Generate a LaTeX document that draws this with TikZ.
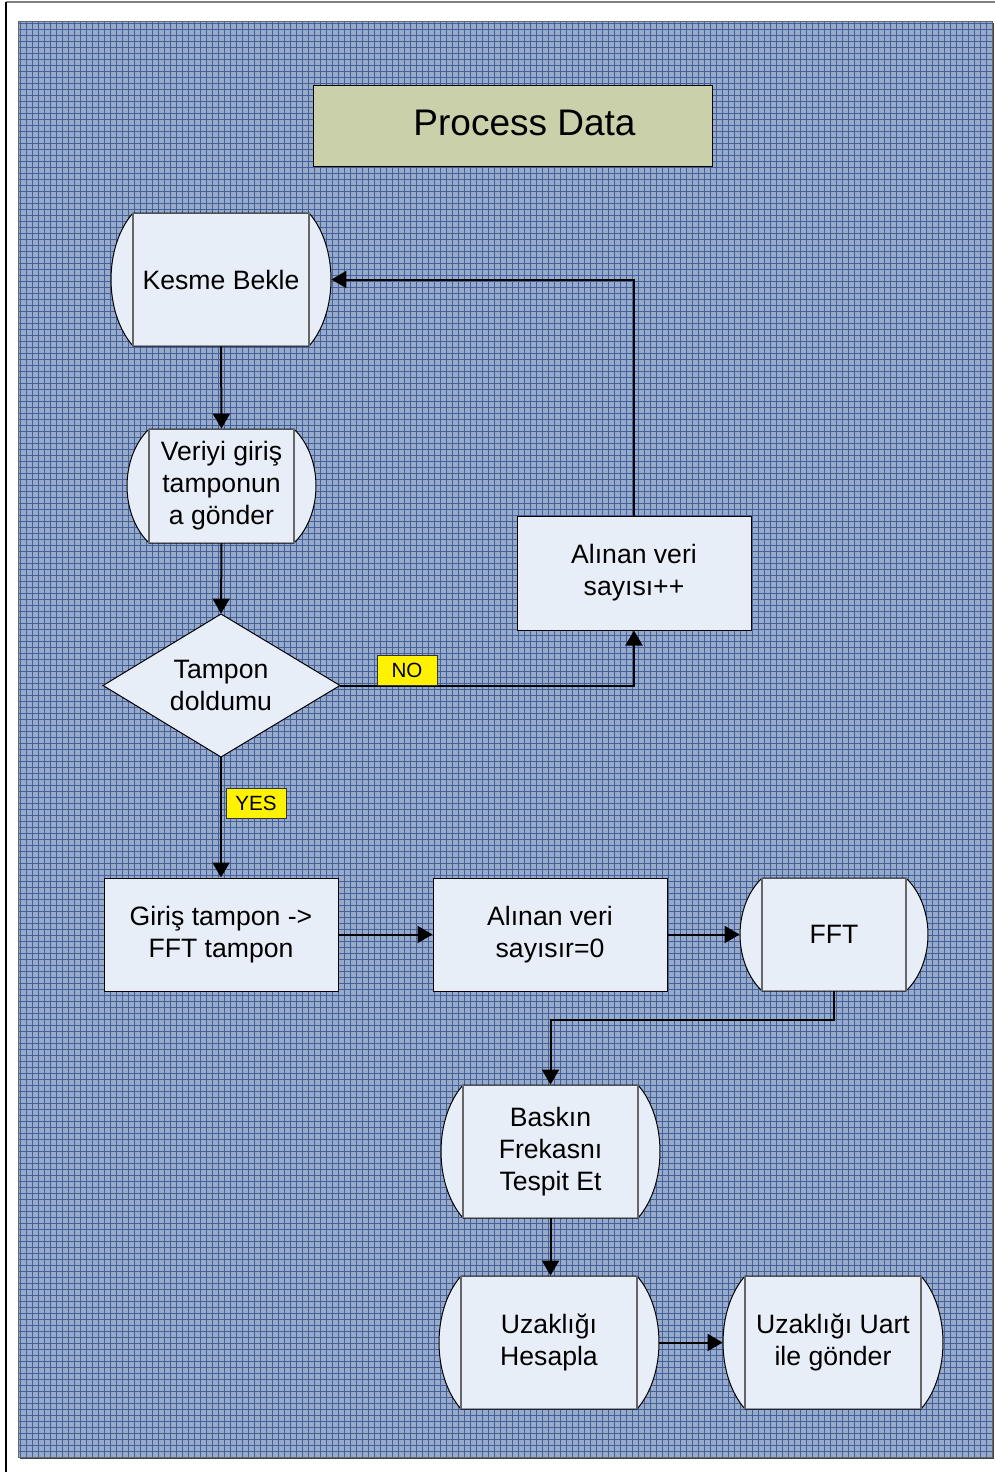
\documentclass[tikz,border=0pt]{standalone}
\usepackage{fontspec}
\setmainfont{Liberation Sans}
\usetikzlibrary{arrows.meta}
\definecolor{bgblue}{RGB}{152,170,202}
\definecolor{gridblue}{RGB}{66,96,154}
\definecolor{shapefill}{RGB}{232,238,248}
\definecolor{titlefill}{RGB}{201,208,170}
\definecolor{shadowgray}{RGB}{60,66,78}
\tikzset{
 boxtext/.style={font=\fontsize{13.3}{16}\selectfont, align=center, inner sep=0pt},
 procbox/.style={boxtext, draw=black, line width=0.5pt, fill=shapefill, rectangle},
 drumbody/.style={fill=shapefill, draw=black, line width=0.5pt},
 drumline/.style={draw=black!60, line width=0.7pt},
 conn/.style={draw=black, line width=1pt, -{Triangle[length=7.5pt,width=8.5pt]}},
 flag/.style={draw=black!80, fill=yellow, line width=0.4pt, font=\fontsize{10.3}{12}\selectfont, minimum width=30pt, minimum height=15pt, inner sep=0pt},
 gridline/.style={draw=gridblue, line width=0.42pt},
}
\newcommand{\drumnode}[6]{%
  \filldraw[drumbody] (#2-#4+22,#3-#5) -- (#2+#4-22,#3-#5)
    .. controls (#2+#4+7.3,#3-#5/2) and (#2+#4+7.3,#3+#5/2) .. (#2+#4-22,#3+#5)
    -- (#2-#4+22,#3+#5)
    .. controls (#2-#4-7.3,#3+#5/2) and (#2-#4-7.3,#3-#5/2) .. cycle;
  \draw[drumline] (#2-#4+22,#3-#5) -- (#2-#4+22,#3+#5) (#2+#4-22,#3-#5) -- (#2+#4-22,#3+#5);
  \node[boxtext, minimum width=#4pt, minimum height=#5pt] (#1) at (#2,#3) {#6};
}
\begin{document}
\begin{tikzpicture}[x=0.5pt,y=-0.5pt]
\useasboundingbox (0,0) rectangle (995,1472);
\fill[white] (0,0) rectangle (995,1472);
% outer frame
\draw[black!50, line width=1pt] (6,2) -- (995,2);
\draw[black, line width=1pt] (6,2) -- (6,1472);
% background
\fill[shadowgray] (20,23) rectangle (994,1459);
\fill[bgblue] (18,21) rectangle (992,1457);
\foreach \gx in {20,26,...,992} \draw[gridline] (\gx,21) -- (\gx,1457);
\foreach \gy in {23,29,...,1457} \draw[gridline] (18,\gy) -- (992,\gy);
\draw[black!60, line width=0.5pt] (18,21) rectangle (992,1457);

% title
\node[draw=black, line width=0.5pt, fill=titlefill, minimum width=199.5pt, minimum height=40.5pt, inner sep=0pt] (title) at (512.5,125.5) {};
\node[font=\fontsize{18.5}{22}\selectfont, inner sep=0pt] (titletext) at (524.5,123) {Process Data};

% drums
\drumnode{kesme}{221}{279.5}{110}{66.5}{Kesme Bekle}
\drumnode{veriyi}{221.5}{486}{94.5}{57}{Veriyi giriş\\tamponun\\a gönder}
\drumnode{fft}{834}{934.5}{94}{56.5}{FFT}
\drumnode{baskin}{550.5}{1151.5}{109.5}{66.5}{Baskın\\Frekasnı\\Tespit Et}
\drumnode{uzak}{549}{1342.5}{110}{66.5}{Uzaklığı\\Hesapla}
\drumnode{uart}{833}{1342.5}{110}{66.5}{Uzaklığı Uart\\ile gönder}

% diamond
\filldraw[drumbody] (221,614) -- (340,685.5) -- (221,757) -- (103,685.5) -- cycle;
\node[boxtext, minimum width=118.5pt, minimum height=71.5pt] (dia) at (221,685.5) {Tampon\\doldumu};

% process boxes
\node[procbox, minimum width=117pt, minimum height=57pt] (sayi) at (634,573) {Alınan veri\\sayısı++};
\node[procbox, minimum width=117pt, minimum height=56.5pt] (giris) at (221,934.5) {Giriş tampon ->\\FFT tampon};
\node[procbox, minimum width=117pt, minimum height=56.5pt] (sifir) at (550,934.5) {Alınan veri\\sayısır=0};

% connectors
\draw[conn] (kesme.south) -- (veriyi.north);
\draw[conn] (veriyi.south) -- (dia.north);
\draw[conn] (dia.east) -| (sayi.south);
\draw[conn] (sayi.north) |- (kesme.east);
\draw[conn] (dia.south) -- (giris.north);
\draw[conn] (giris.east) -- (sifir.west);
\draw[conn] (sifir.east) -- (fft.west);
\coordinate (fftturn) at (834,1020);
\draw[conn] (fft.south) -- (fftturn) -| (baskin.north);
\draw[conn] (baskin.south) -- (baskin.south |- uzak.north);
\draw[conn] (uzak.east) -- (uart.west);

% flags
\node[flag] (no) at (407,670) {NO};
\node[flag] (yes) at (256,803) {YES};
\end{tikzpicture}
\end{document}
